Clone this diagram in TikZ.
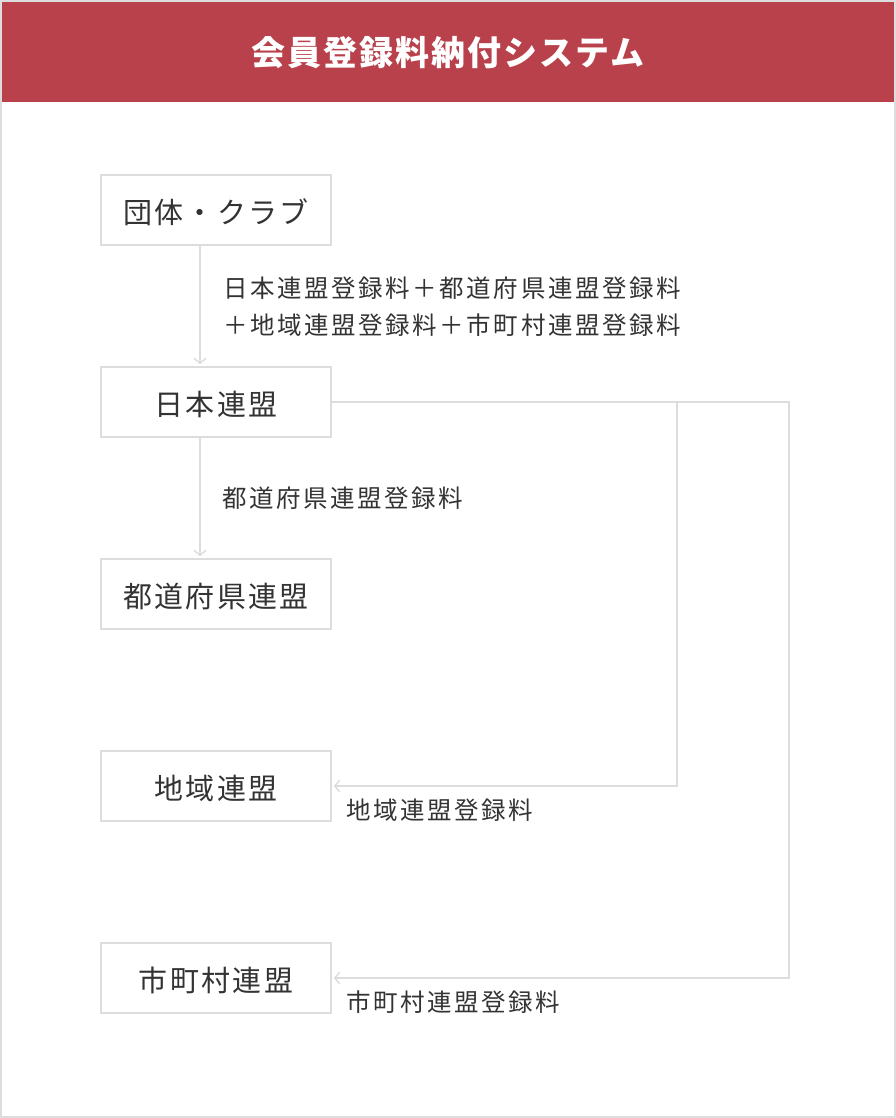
\documentclass[tikz,border=0pt]{standalone}
\usepackage{fontspec}
\setmainfont{Noto Sans CJK JP}
\newfontfamily\boxfont{Noto Sans CJK JP}[LetterSpace=8]
\newfontfamily\feefont{Noto Sans CJK JP}[LetterSpace=10.5]
\newfontfamily\titlefont{Noto Sans CJK JP}[LetterSpace=6]
\usetikzlibrary{arrows.meta}
\definecolor{headred}{HTML}{B8414B}
\definecolor{linegray}{HTML}{DDDDDD}
\definecolor{textgray}{HTML}{333333}
\tikzset{
  stage/.style={draw=linegray,line width=1.5pt,minimum width=230pt,minimum height=70pt,
    inner sep=0pt,text height=33pt,text depth=6pt,text=textgray,
    font=\boxfont\fontsize{29}{32}\selectfont},
  fee/.style={anchor=west,inner sep=0pt,align=left,text=textgray,
    font=\feefont\fontsize{24.5}{37}\selectfont},
  flow/.style={draw=linegray,line width=1.5pt,-{Straight Barb[length=5pt,width=12pt]},shorten >=2pt}
}
\begin{document}
\begin{tikzpicture}[x=1pt,y=-1pt]
\useasboundingbox (0,0) rectangle (896,1118);
\draw[linegray,line width=1.5pt] (1,1) rectangle (895,1117);
\fill[headred] (2,2) rectangle (894,102);
\node[text=white,font=\titlefont\bfseries\fontsize{34}{36}\selectfont] (title) at (448,53) {会員登録料納付システム};

\node[stage] (club) at (216,210) {団体・クラブ};
\node[stage] (jfa) at (216,402) {日本連盟};
\node[stage] (pref) at (216,594) {都道府県連盟};
\node[stage] (region) at (216,786) {地域連盟};
\node[stage] (city) at (216,978) {市町村連盟};

\coordinate (midbus) at (677,0);
\coordinate (rightbus) at (789,0);

\draw[flow] ([xshift=-16pt]club.south) -- ([xshift=-16pt]jfa.north);
\draw[flow] ([xshift=-16pt]jfa.south) -- ([xshift=-16pt]pref.north);
\draw[flow] (jfa.east) -| (rightbus |- city.east) -- (city.east);
\draw[flow] (jfa.east -| midbus) |- (region.east);

\node[fee] (fee1) at (223,307) {日本連盟登録料＋都道府県連盟登録料\\＋地域連盟登録料＋市町村連盟登録料};
\node[fee] (fee2) at (222,498) {都道府県連盟登録料};
\node[fee] (fee3) at (346,810) {地域連盟登録料};
\node[fee] (fee4) at (346,1002) {市町村連盟登録料};
\end{tikzpicture}
\end{document}
